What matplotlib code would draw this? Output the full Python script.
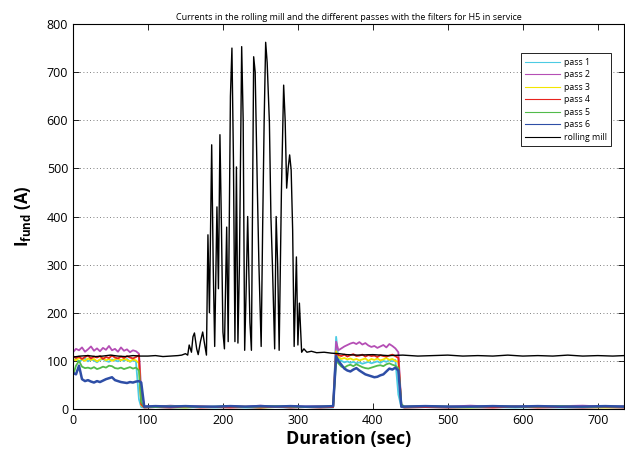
import matplotlib
matplotlib.use("Agg")
import matplotlib.pyplot as plt

plt.rcParams["font.family"] = ["Open Sans", "DejaVu Sans"]
plt.rcParams["mathtext.fontset"] = "custom"
plt.rcParams["mathtext.rm"] = "Open Sans"
plt.rcParams["mathtext.bf"] = "Open Sans:bold"

# time grid shared by the six passes (sec)
t_pass = [0, 4, 8, 12, 16, 20, 24, 28, 32, 36, 40, 44, 48, 52, 56, 60, 64, 68, 72, 76, 80, 84,
          88, 91,
          95, 110, 130, 150, 170, 190, 210, 230, 250, 270, 290, 310, 330, 347,
          351,
          354, 358, 362, 366, 370, 374, 378, 382, 386, 390, 394, 398, 402, 406, 410, 414, 418, 422, 426, 430,
          434, 438,
          442, 470, 500, 530, 560, 590, 620, 650, 680, 710, 735]

pass1 = [100, 104, 98, 102, 105, 99, 103, 101, 97, 102, 104, 100, 98, 103, 101, 99, 102, 100, 104, 98, 101, 99,
         20, 4,
         3, 4, 3, 3, 4, 3, 4, 3, 3, 4, 3, 4, 3, 3,
         150,
         105, 100, 97, 99, 96, 98, 95, 97, 94, 96, 98, 95, 97, 99, 96, 100, 98, 101, 99, 102,
         30, 4,
         3, 4, 3, 3, 4, 3, 4, 3, 3, 4, 3]
pass2 = [118, 125, 122, 128, 119, 124, 130, 121, 126, 120, 127, 123, 131, 122, 125, 119, 128, 121, 124, 118, 122, 120,
         115, 40,
         6, 5, 7, 5, 6, 4, 6, 5, 7, 5, 6, 5, 6, 5,
         140,
         122, 126, 130, 133, 136, 138, 135, 139, 134, 137, 132, 129, 131, 127, 130, 133, 128, 135, 131, 126,
         118, 8,
         5, 6, 5, 7, 5, 6, 5, 6, 7, 5, 6]
pass3 = [104, 101, 106, 103, 100, 105, 102, 104, 99, 103, 106, 101, 104, 100, 103, 105, 101, 104, 102, 99, 103, 101,
         95, 8,
         4, 5, 4, 3, 5, 4, 4, 5, 3, 4, 5, 4, 4, 5,
         120,
         108, 104, 106, 103, 105, 102, 104, 101, 103, 105, 100, 104, 102, 105, 101, 103, 106, 102, 104, 100,
         98, 6,
         4, 5, 4, 3, 5, 4, 4, 5, 4, 3, 4]
pass4 = [110, 106, 109, 104, 108, 111, 105, 109, 107, 110, 104, 108, 106, 111, 107, 105, 109, 106, 110, 107, 105, 108,
         112, 10,
         3, 4, 3, 5, 3, 4, 3, 4, 3, 5, 3, 4, 3, 4,
         115,
         112, 110, 113, 109, 112, 114, 110, 111, 113, 109, 112, 110, 111, 108, 112, 110, 109, 111, 113, 110,
         106, 5,
         3, 4, 3, 4, 3, 5, 3, 4, 3, 4, 3]
pass5 = [70, 90, 100, 88, 85, 86, 84, 87, 83, 85, 88, 86, 90, 89, 85, 84, 86, 83, 85, 87, 84, 86,
         80, 15,
         5, 4, 6, 5, 4, 5, 6, 4, 5, 6, 5, 4, 5, 6,
         100,
         95, 88, 86, 90, 92, 89, 93, 90, 87, 85, 84, 86, 88, 90, 91, 89, 93, 95, 92, 90,
         85, 10,
         5, 6, 5, 4, 6, 5, 5, 6, 4, 5, 5]
pass6 = [75, 72, 90, 62, 58, 60, 57, 55, 58, 56, 59, 62, 64, 66, 60, 58, 56, 55, 54, 56, 55, 57,
         58, 55,
         5, 6, 5, 6, 5, 5, 6, 5, 6, 5, 6, 5, 5, 6,
         110,
         100, 92, 84, 80, 78, 82, 85, 80, 76, 72, 70, 68, 66, 67, 70, 72, 78, 84, 82, 86,
         80, 5,
         5, 6, 5, 5, 6, 5, 6, 5, 5, 6, 5]

# rolling mill current
t_mill = [0, 10, 20, 30, 40, 50, 60, 70, 80, 90, 100, 110, 120, 130, 140, 145,
          150, 153, 155, 158, 160, 162, 165, 167, 170, 173, 175, 178,
          180, 182, 185, 187, 189, 192, 194, 196, 198, 200, 202, 205, 207, 210, 212, 214, 216, 218,
          220, 222, 225, 227, 229, 231, 233, 236, 238, 241, 243, 246, 248, 251, 253, 255, 257, 259,
          262, 264, 266, 269, 271, 273, 275, 278, 281, 283, 285, 287, 289, 291, 293, 295, 298, 300, 302, 305,
          308, 312, 318, 325, 335, 345, 355, 365, 380, 400, 420, 440, 460, 480, 500, 520, 540, 560,
          580, 600, 620, 640, 660, 680, 700, 720, 735]
mill = [108, 110, 111, 109, 110, 112, 110, 109, 111, 110, 110, 111, 109, 110, 111, 112,
        115, 112, 133, 118, 150, 158, 125, 113, 140, 160, 140, 112,
        362, 200, 549, 300, 130, 420, 250, 570, 380, 160, 125, 378, 140, 650, 750, 520, 140, 503,
        137, 300, 753, 600, 122, 250, 400, 180, 122, 732, 700, 450, 300, 130, 380, 600, 762, 720,
        595, 400, 300, 125, 400, 300, 122, 450, 673, 600, 459, 500, 528, 497, 372, 130, 316, 133, 220, 118,
        125, 118, 120, 117, 118, 116, 115, 113, 112, 113, 111, 112, 110, 111, 112, 110, 111, 110,
        112, 110, 111, 110, 112, 110, 111, 110, 111]

labels = ["pass 1", "pass 2", "pass 3", "pass 4", "pass 5", "pass 6", "rolling mill"]
colors = ["#4ccbe3", "#b54eb5", "#f2e600", "#e8231e", "#52bb4a", "#2e4ea6", "#000000"]

fig = plt.figure(figsize=(6.25, 4.54), dpi=100)
ax = fig.add_axes([0.1168, 0.0991, 0.8816, 0.848])

for vals, lab, col in zip([pass1, pass2, pass3, pass4, pass5, pass6], labels[:6], colors[:6]):
    ax.plot(t_pass, vals, color=col, lw=1.3 if lab != "pass 6" else 1.8, label=lab)
ax.plot(t_mill, mill, color=colors[6], lw=1.0, label=labels[6])

ax.set_xlim(0, 735)
ax.set_ylim(0, 800)
ax.set_xticks(range(0, 701, 100))
ax.set_yticks(range(0, 801, 100))
ax.yaxis.grid(True, linestyle=(0, (1, 3)), color="#555555", lw=0.6)
ax.tick_params(direction="in", top=True, right=True, labelsize=9, length=4, width=0.6)
for s in ax.spines.values():
    s.set_linewidth(0.8)

ax.set_title("Currents in the rolling mill and the different passes with the filters for H5 in service",
             fontsize=6.5, pad=3)
ax.set_xlabel("Duration (sec)", fontsize=13, fontweight="bold", labelpad=2)
ax.set_ylabel(r"$\mathbf{I_{fund}}$ (A)", fontsize=12, fontweight="bold", labelpad=10)

leg = ax.legend(loc="upper right", bbox_to_anchor=(0.985, 0.935), fontsize=6.3, fancybox=False,
                edgecolor="black", framealpha=1, handlelength=4.0, labelspacing=0.4,
                borderpad=0.5, handletextpad=0.4)
leg.get_frame().set_linewidth(0.6)
for line in leg.get_lines():
    line.set_linewidth(0.8)

fig.savefig("out.png", dpi=100)
